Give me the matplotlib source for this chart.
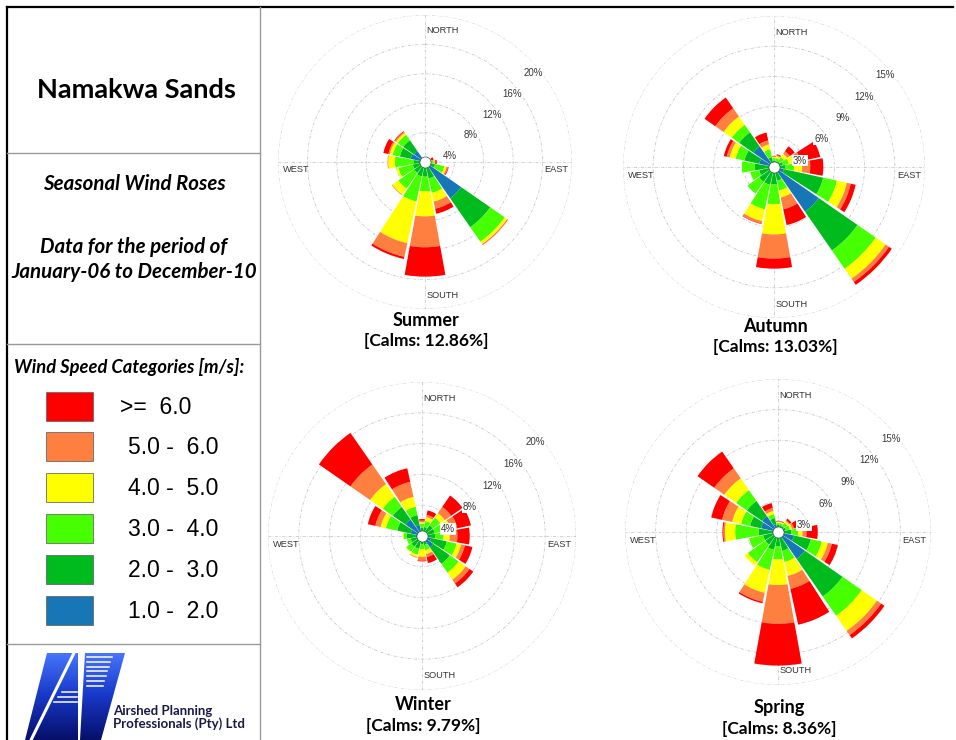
import numpy as np
import matplotlib
matplotlib.use("Agg")
import matplotlib.pyplot as plt
from matplotlib.patches import Polygon, Rectangle
from matplotlib.colors import LinearSegmentedColormap

# 16 compass sectors, clockwise from north
directions = ["N", "NNE", "NE", "ENE", "E", "ESE", "SE", "SSE",
              "S", "SSW", "SW", "WSW", "W", "WNW", "NW", "NNW"]

# speed classes, lowest first (stacking order from the centre outwards)
speed_classes = ["1.0 -  2.0", "2.0 -  3.0", "3.0 -  4.0",
                 "4.0 -  5.0", "5.0 -  6.0", ">=  6.0"]
speed_colors = ["#1676b6", "#00bb1e", "#46ff00", "#ffff00", "#ff7f40", "#ff0000"]

seasons = ["Summer", "Autumn", "Winter", "Spring"]
calms = [12.86, 13.03, 9.79, 8.36]
rings_a = [4, 8, 12, 16, 20]
rings_b = [3, 6, 9, 12, 15]

# frequency (%) per speed class (rows) and direction (columns)
summer = [
    [0.15, 0.1, 0.15, 0.2, 0.3, 0.4, 6.0, 0.5, 0.3, 0.3, 0.3, 0.2, 0.3, 2.0, 1.8, 0.3],
    [0.15, 0.1, 0.15, 0.3, 0.5, 1.0, 4.8, 1.8, 1.7, 1.7, 1.5, 1.5, 1.2, 1.5, 1.8, 0.2],
    [0.05, 0.05, 0.05, 0.2, 0.4, 1.3, 2.4, 2.0, 2.0, 3.5, 2.6, 2.0, 2.6, 1.0, 0.9, 0.1],
    [0.0, 0.0, 0.0, 0.1, 0.1, 0.3, 0.4, 1.2, 3.4, 5.8, 1.0, 0.3, 0.9, 0.4, 0.3, 0.0],
    [0.0, 0.0, 0.0, 0.1, 0.1, 0.2, 0.1, 1.0, 4.2, 1.9, 0.1, 0.0, 0.1, 0.2, 0.2, 0.0],
    [0.0, 0.0, 0.05, 0.3, 0.2, 0.1, 0.05, 0.7, 4.0, 0.3, 0.0, 0.0, 0.0, 0.7, 0.1, 0.0],
]
autumn = [
    [0.2, 0.2, 0.2, 0.3, 0.3, 1.0, 5.4, 0.4, 0.3, 0.3, 0.2, 0.2, 0.3, 1.5, 2.5, 0.3],
    [0.4, 0.4, 0.5, 0.6, 0.8, 4.0, 4.7, 1.0, 1.4, 1.5, 1.6, 1.3, 1.6, 1.5, 1.7, 0.7],
    [0.3, 0.3, 0.5, 0.6, 0.9, 1.4, 2.2, 1.0, 2.0, 2.5, 1.4, 0.9, 1.3, 0.9, 0.9, 0.8],
    [0.1, 0.2, 0.4, 0.6, 0.8, 1.0, 1.2, 0.7, 3.0, 1.2, 0.0, 0.0, 0.0, 0.6, 1.0, 0.5],
    [0.05, 0.1, 0.3, 0.6, 0.8, 0.4, 0.4, 1.2, 2.4, 0.25, 0.0, 0.0, 0.0, 0.3, 1.0, 0.4],
    [0.05, 0.1, 0.6, 2.0, 1.3, 0.5, 0.35, 1.6, 1.0, 0.05, 0.0, 0.0, 0.0, 0.3, 1.3, 0.8],
]
winter = [
    [0.4, 0.4, 0.5, 0.6, 0.5, 1.2, 1.8, 0.4, 0.4, 0.5, 0.5, 0.6, 0.8, 1.5, 2.6, 1.5],
    [0.7, 0.8, 1.2, 1.1, 1.2, 2.1, 2.6, 0.8, 0.7, 1.2, 1.2, 0.9, 1.2, 1.8, 2.0, 1.3],
    [0.5, 0.8, 1.2, 1.3, 1.1, 1.3, 1.4, 0.7, 0.6, 0.8, 0.8, 0.5, 0.4, 1.5, 1.6, 1.1],
    [0.2, 0.5, 0.7, 0.8, 0.8, 0.6, 1.1, 0.5, 1.0, 0.3, 0.1, 0.0, 0.1, 0.7, 2.0, 1.3],
    [0.2, 0.3, 1.0, 0.9, 1.0, 0.5, 0.6, 0.4, 0.5, 0.1, 0.0, 0.0, 0.0, 0.7, 3.1, 2.0],
    [0.2, 0.6, 1.8, 1.8, 1.6, 1.0, 0.6, 0.8, 0.1, 0.0, 0.0, 0.0, 0.0, 1.0, 5.0, 1.8],
]
spring = [
    [0.3, 0.3, 0.3, 0.3, 0.4, 1.6, 3.2, 0.5, 0.4, 0.5, 0.4, 0.5, 0.6, 1.7, 1.9, 0.8],
    [0.4, 0.4, 0.4, 0.5, 0.9, 1.7, 4.5, 1.4, 1.0, 1.3, 1.1, 1.0, 1.3, 1.1, 1.8, 0.6],
    [0.2, 0.2, 0.4, 0.4, 0.7, 1.1, 2.3, 1.1, 1.3, 2.0, 2.1, 1.4, 2.3, 0.9, 1.3, 0.4],
    [0.1, 0.1, 0.2, 0.2, 0.4, 0.6, 1.8, 1.4, 2.5, 2.3, 0.4, 0.0, 1.0, 0.9, 1.4, 0.3],
    [0.05, 0.05, 0.1, 0.2, 0.4, 0.4, 0.5, 1.3, 3.8, 0.9, 0.0, 0.0, 0.15, 1.0, 1.2, 0.3],
    [0.05, 0.05, 0.2, 0.5, 1.1, 0.6, 0.4, 3.6, 4.1, 0.15, 0.0, 0.0, 0.1, 1.1, 2.0, 0.5],
]

W, H = 956, 740
fig = plt.figure(figsize=(W / 100, H / 100), dpi=100)

# full-figure axes in pixel units for the side panel, frame and captions
bg = fig.add_axes([0, 0, 1, 1])
bg.set_xlim(0, W)
bg.set_ylim(H, 0)
bg.axis("off")

calibri_like = "Lato"
arial_like = "Liberation Sans"

# frame and side panel dividers
bg.plot([7, 953], [7, 7], color="black", lw=1.6)
bg.plot([7, 7], [7, H], color="black", lw=1.6)
bg.plot([260, 260], [7, H], color="#9a9a9a", lw=1.0)
for y in (153, 344, 644):
    bg.plot([7, 260], [y, y], color="#9a9a9a", lw=1.0)

bg.text(136, 90, "Namakwa Sands", ha="center", va="center", fontsize=19.5,
        fontweight="bold", family=calibri_like)
bg.text(134, 184, "Seasonal Wind Roses", ha="center", va="center", fontsize=14.8,
        fontweight="bold", style="italic", family=calibri_like)
bg.text(134, 247, "Data for the period of", ha="center", va="center", fontsize=14.8,
        fontweight="bold", style="italic", family=calibri_like)
bg.text(134, 272, "January-06 to December-10", ha="center", va="center", fontsize=14.8,
        fontweight="bold", style="italic", family=calibri_like)
bg.text(129, 367, "Wind Speed Categories [m/s]:", ha="center", va="center", fontsize=13.2,
        fontweight="bold", style="italic", family=calibri_like)

# legend, highest class on top
for i, (lab, col) in enumerate(zip(speed_classes[::-1], speed_colors[::-1])):
    yc = 406 + i * 40.8
    bg.add_patch(Rectangle((46, yc - 14.5), 47, 29, facecolor=col,
                           edgecolor="#6a6a6a", lw=0.6))
    x0 = 120 if lab.startswith(">") else 128
    bg.text(x0, yc + 1, lab, ha="left", va="center", fontsize=16.5,
            family=arial_like)

# company logo
logo_cmap = LinearSegmentedColormap.from_list("logo", ["#4a78ff", "#1838c8", "#06106a"])
grad = np.linspace(0, 1, 100).reshape(-1, 1)
left_piece = Polygon([(47, 653), (78, 653), (78, 740), (25, 740)], closed=True,
                     facecolor="none", edgecolor="none")
right_piece = Polygon([(85, 653), (125, 653), (101, 740), (80, 740)], closed=True,
                      facecolor="none", edgecolor="none")
for piece in (left_piece, right_piece):
    bg.add_patch(piece)
    im = bg.imshow(grad, extent=(20, 130, 740, 650), cmap=logo_cmap, aspect="auto",
                   zorder=2)
    im.set_clip_path(piece)
bg.plot([74, 31], [653, 740], color="white", lw=2.2, zorder=3)
for k, y in enumerate(np.arange(657, 690, 4.8)):
    bg.plot([87, 112 - 1.5 * k], [y, y], color="white", lw=1.1, zorder=3)
for k, y in enumerate((692, 697, 702)):
    bg.plot([62 - 4 * k, 77], [y, y], color="white", lw=1.1, zorder=3)
bg.text(113, 711, "Airshed Planning", ha="left", va="center", fontsize=9.5,
        fontweight="bold", family=calibri_like, color="#1a1a4a")
bg.text(113, 724, "Professionals (Pty) Ltd", ha="left", va="center", fontsize=9.5,
        fontweight="bold", family=calibri_like, color="#1a1a4a")

# rose placement: centre x, centre y, outer ring radius (px), caption y
layout = [(425, 162, 147, 320), (774, 167, 151, 326),
          (422, 536, 154, 705), (778, 532, 153, 708)]
rings = [rings_a, rings_b, rings_a, rings_b]
data = [summer, autumn, winter, spring]

theta = np.deg2rad(np.arange(16) * 22.5)
width = np.deg2rad(22.5) * 0.91

for name, calm, (cx, cy, R, ty), ticks, freq in zip(seasons, calms, layout, rings, data):
    ax = fig.add_axes([(cx - R) / W, (H - cy - R) / H, 2 * R / W, 2 * R / H],
                      projection="polar")
    ax.set_theta_zero_location("N")
    ax.set_theta_direction(-1)
    ax.patch.set_alpha(0)
    ax.spines["polar"].set_visible(False)
    ax.set_axisbelow(True)

    freq = np.array(freq)
    bottom = np.zeros(16)
    for row, col in zip(freq, speed_colors):
        ax.bar(theta, row, width=width, bottom=bottom, color=col, edgecolor="none",
               linewidth=0, zorder=2)
        bottom += row

    ax.set_ylim(0, ticks[-1])
    ax.set_rticks(ticks)
    ax.set_yticklabels([])
    ax.set_thetagrids([0, 90, 180, 270], labels=[])
    ax.grid(True, color="#c2c2d0", lw=0.55, linestyle=(0, (4, 2, 1, 2)))

    ax.plot(0, 0, "o", ms=8, mfc="white", mec="#2d5a38", mew=0.5, zorder=4)

    for t in ticks:
        ax.annotate(f"{t}%", xy=(np.pi / 4, t), xytext=(3.2, -10.8),
                    textcoords="offset points", ha="center", va="center",
                    fontsize=7, color="#383838", family=arial_like, zorder=5,
                    bbox=dict(boxstyle="square,pad=0.08", fc="white", ec="none"))

    lab_kw = dict(transform=ax.transAxes, fontsize=6.7, color="#333333",
                  family=arial_like, va="center")
    ax.text(0.505, 0.947, "NORTH", ha="left", **lab_kw)
    ax.text(0.505, 0.046, "SOUTH", ha="left", **lab_kw)
    ax.text(0.017, 0.473, "WEST", ha="left", **lab_kw)
    ax.text(0.986, 0.473, "EAST", ha="right", **lab_kw)

    bg.text(cx + 1, ty, name, ha="center", va="center", fontsize=13,
            fontweight="bold", family=calibri_like)
    bg.text(cx + 1, ty + 21, f"[Calms: {calm:.2f}%]", ha="center", va="center",
            fontsize=12.5, fontweight="bold", family=calibri_like)

fig.savefig("out.png", dpi=100)
